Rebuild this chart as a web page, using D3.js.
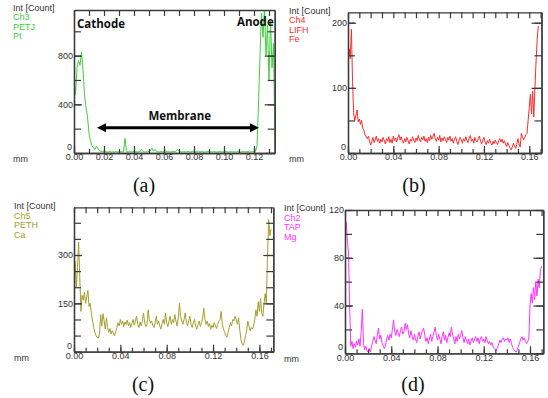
<!DOCTYPE html>
<html><head><meta charset="utf-8">
<script src="https://cdn.jsdelivr.net/npm/d3@7"></script>
<style>
body{margin:0;background:#fff}
svg{display:block}
text{font-family:"Liberation Sans",Arial,sans-serif}
</style>
</head><body>
<svg id="chart" width="548" height="398"></svg>
<script>
// ---- DATA (counts sampled every 0.001 mm from 0.000) ----
const stepMm = 0.001;
const ptCounts = [600,480,700,760,720,830,690,480,370,300,160,100,60,40,30,55,35,20,15,12,
 10,12,8,10,12,8,10,9,12,8,10,12,8,10,120,10,8,12,10,9,
 14,10,8,12,10,30,12,10,8,14,10,20,40,15,30,12,10,9,12,10,
 8,14,10,12,8,10,12,10,15,30,12,10,8,12,10,9,14,10,8,12,
 10,8,12,10,9,12,10,8,10,12,14,10,8,12,10,8,10,12,9,10,
 8,12,10,8,10,12,9,10,8,12,10,8,10,12,9,10,12,8,10,12,
 10,15,60,400,800,1150,950,1200,800,1050,600,1100,700,900,20];
const feCounts = [140,160,145,190,110,60,50,58,66,48,52,44,50,38,35,28,25,22,26,18,
 12,18,24,16,20,26,18,22,15,21,17,24,19,14,22,18,25,16,21,15,
 26,19,23,17,24,28,20,25,18,15,22,17,24,19,14,21,18,25,20,16,
 23,19,27,21,17,24,20,26,18,22,16,24,19,27,21,25,30,22,18,24,
 20,27,17,23,19,25,21,16,24,20,26,18,22,15,21,25,18,13,19,24,
 20,15,22,18,25,19,16,23,27,18,21,15,24,19,17,22,26,18,14,20,
 24,17,13,19,15,21,16,12,18,14,20,16,13,19,22,17,21,15,19,14,
 10,16,12,8,5,9,15,11,7,13,22,14,9,30,25,20,24,28,30,50,
 70,90,60,95,55,100,140,175,195];
const caCounts = [230,280,200,260,340,230,125,175,160,185,150,170,190,140,150,120,95,75,60,50,
 45,42,55,115,80,118,95,70,105,75,60,72,55,65,58,50,62,75,90,80,
 100,85,95,78,92,85,98,80,90,75,88,100,82,95,110,85,75,92,80,95,
 120,90,78,85,130,100,88,95,82,75,90,110,85,95,80,70,88,100,85,120,
 90,78,95,110,85,100,90,115,95,80,105,150,110,95,85,100,120,90,80,95,
 110,85,75,90,100,80,70,85,95,78,90,105,135,100,85,95,78,88,70,82,
 75,90,80,72,85,95,100,125,85,70,60,50,45,60,75,90,80,100,95,110,
 100,85,105,70,40,25,20,30,50,65,95,80,65,75,70,80,100,130,110,155,
 125,165,120,110,150,180,150,300,410,360,380];
const mgCounts = [100,110,95,85,40,6,10,4,8,5,10,7,12,6,18,37,8,3,6,2,
 1,4,1,6,10,14,11,8,16,21,12,15,9,6,4,7,12,15,11,16,
 13,20,28,18,15,20,17,14,19,22,16,18,25,20,24,17,13,19,14,11,
 16,12,9,14,18,12,16,19,21,15,10,13,8,12,16,10,14,18,22,15,
 11,16,12,8,14,18,11,15,9,13,17,14,22,16,12,8,14,10,16,12,
 15,19,13,9,14,11,8,12,7,10,13,9,12,14,10,13,8,12,14,10,
 12,9,14,11,8,10,7,9,6,4,3,2,5,8,11,9,12,13,10,12,
 11,13,9,12,8,5,3,2,1,3,6,9,12,14,11,13,10,8,10,12,
 40,50,42,55,45,60,48,62,55,70,73];

// legends, axis labels
const legendPt = ["Ch3","PETJ","Pt"];
const legendFe = ["Ch4","LIFH","Fe"];
const legendCa = ["Ch5","PETH","Ca"];
const legendMg = ["Ch2","TAP","Mg"];
const xLabelsA = [0,0.02,0.04,0.06,0.08,0.10,0.12];
const xLabelsBCD = [0,0.04,0.08,0.12,0.16];
const yLabelsA = [0,400,800];
const yLabelsB = [0,100,200];
const yLabelsC = [0,150,300];
const yLabelsD = [0,40,80,120];
const panelNames = ["(a)","(b)","(c)","(d)"];

// ---- LAYOUT ----
const svg = d3.select("#chart");
const panels = [
 {data:ptCounts, color:"#3fcf3f", legend:legendPt, xMax:0.1338, yMax:1175, xLab:xLabelsA, yLab:yLabelsA, yMinor:200,
  l:74, t:10, r:274.7, b:153, lx:13, ly:10.5, mmy:162, name:panelNames[0], nx:144, ny:192},
 {data:feCounts, color:"#ff2a2a", legend:legendFe, xMax:0.1708, yMax:216, xLab:xLabelsBCD, yLab:yLabelsB, yMinor:50,
  l:348, t:12.3, r:541.5, b:153, lx:289, ly:13.5, mmy:162, name:panelNames[1], nx:414, ny:192},
 {data:caCounts, color:"#a39f2c", legend:legendCa, xMax:0.172, yMax:448, xLab:xLabelsBCD, yLab:yLabelsC, yMinor:50,
  l:74, t:207.3, r:273.3, b:351.7, lx:14, ly:209, mmy:361, name:panelNames[2], nx:143, ny:391},
 {data:mgCounts, color:"#ff33ff", legend:legendMg, xMax:0.1715, yMax:120, xLab:xLabelsBCD, yLab:yLabelsD, yMinor:20,
  l:345, t:210, r:543.3, b:353.3, lx:284, ly:211, mmy:362, name:panelNames[3], nx:413, ny:391}
];

const axisColor = "#3a3a3a";
const fmtX = d3.format(".2f");

panels.forEach((p, i) => {
  const w = p.r - p.l, h = p.b - p.t;
  const x = d3.scaleLinear().domain([0, p.xMax]).range([0, w]);
  const y = d3.scaleLinear().domain([0, p.yMax]).range([h, 0]);
  const g = svg.append("g").attr("transform", `translate(${p.l},${p.t})`);

  // legend block
  const lg = svg.append("g").attr("font-size", 9);
  lg.append("text").attr("x", p.lx).attr("y", p.ly).attr("fill", "#333").text("Int [Count]");
  p.legend.forEach((s, k) => lg.append("text").attr("x", p.lx).attr("y", p.ly + 9.5 * (k + 1)).attr("fill", p.color).text(s));
  lg.append("text").attr("x", p.lx).attr("y", p.mmy).attr("fill", "#333").text("mm");

  // clip + line
  const cid = "clip" + i;
  svg.append("defs").append("clipPath").attr("id", cid).append("rect").attr("width", w).attr("height", h);
  const line = d3.line().x((d, k) => x(k * stepMm)).y(d => y(d));
  g.append("path").datum(p.data).attr("clip-path", `url(#${cid})`)
    .attr("fill", "none").attr("stroke", p.color).attr("stroke-width", 1).attr("stroke-linejoin", "round")
    .attr("d", line);

  // ticks
  const xMinor = d3.range(0, p.xMax + 1e-9, 0.01);
  const yMinor = d3.range(0, p.yMax + 1e-9, p.yMinor);
  const styleAxis = sel => {
    sel.selectAll("path.domain").attr("stroke", axisColor).attr("stroke-width", 1.3);
    sel.selectAll(".tick line").attr("stroke", axisColor).attr("stroke-width", 1.2);
    sel.selectAll("text").attr("fill", "#333").attr("font-size", 9).attr("font-family", "Liberation Sans, Arial, sans-serif");
  };
  g.append("g").attr("transform", `translate(0,${h})`)
    .call(d3.axisBottom(x).tickValues(xMinor).tickSize(-4).tickSizeOuter(0).tickFormat("")).call(styleAxis);
  g.append("g").attr("transform", `translate(0,${h})`)
    .call(d3.axisBottom(x).tickValues(p.xLab).tickSize(-7).tickSizeOuter(0).tickPadding(1).tickFormat(fmtX)).call(styleAxis);
  g.append("g")
    .call(d3.axisTop(x).tickValues(xMinor).tickSize(-6).tickSizeOuter(0).tickFormat("")).call(styleAxis);
  g.append("g")
    .call(d3.axisLeft(y).tickValues(yMinor).tickSize(-7).tickSizeOuter(0).tickFormat("")).call(styleAxis);
  g.append("g")
    .call(d3.axisLeft(y).tickValues(p.yLab.filter(v => v > 0)).tickSize(-8).tickSizeOuter(0).tickPadding(1).tickFormat(d3.format("d"))).call(styleAxis);
  // origin "0" label sits just above the corner
  g.append("text").attr("x", -2).attr("y", h - 3).attr("text-anchor", "end").attr("font-size", 9).attr("fill", "#333").text(p.yLab[0]);
  g.append("g").attr("transform", `translate(${w},0)`)
    .call(d3.axisRight(y).tickValues(yMinor).tickSize(-7).tickSizeOuter(0).tickFormat("")).call(styleAxis);
  g.append("g").attr("transform", `translate(${w},0)`)
    .call(d3.axisRight(y).tickValues(p.yLab).tickSize(-10).tickSizeOuter(0).tickFormat("")).call(styleAxis);

  // panel name
  svg.append("text").attr("x", p.nx).attr("y", p.ny).attr("text-anchor", "middle")
    .attr("font-size", 20).attr("fill", "#111")
    .style("font-family", "'Liberation Serif','Times New Roman',serif").text(p.name);

  if (i === 0) {
    const ann = g.append("g").attr("font-weight", 700).attr("font-size", 11.5).attr("fill", "#111");
    ann.append("text").attr("x", x(0.002)).attr("y", 18).style("font-family", "'Open Sans',sans-serif").text("Cathode");
    ann.append("text").attr("x", w - 1).attr("y", 16).attr("text-anchor", "end").style("font-family", "'Open Sans',sans-serif").text("Anode");
    ann.append("text").attr("x", x(0.0705)).attr("y", y(270)).attr("text-anchor", "middle").style("font-family", "'Open Sans',sans-serif").text("Membrane");
    const ax0 = x(0.0153), ax1 = x(0.1233), ay = y(208), hl = 9, hh = 4.5;
    g.append("line").attr("x1", ax0 + hl - 1).attr("x2", ax1 - hl + 1).attr("y1", ay).attr("y2", ay)
      .attr("stroke", "#000").attr("stroke-width", 3);
    g.append("path").attr("d", `M${ax0},${ay}L${ax0 + hl},${ay - hh}L${ax0 + hl},${ay + hh}Z`).attr("fill", "#000");
    g.append("path").attr("d", `M${ax1},${ay}L${ax1 - hl},${ay - hh}L${ax1 - hl},${ay + hh}Z`).attr("fill", "#000");
  }
});
</script>
</body></html>
